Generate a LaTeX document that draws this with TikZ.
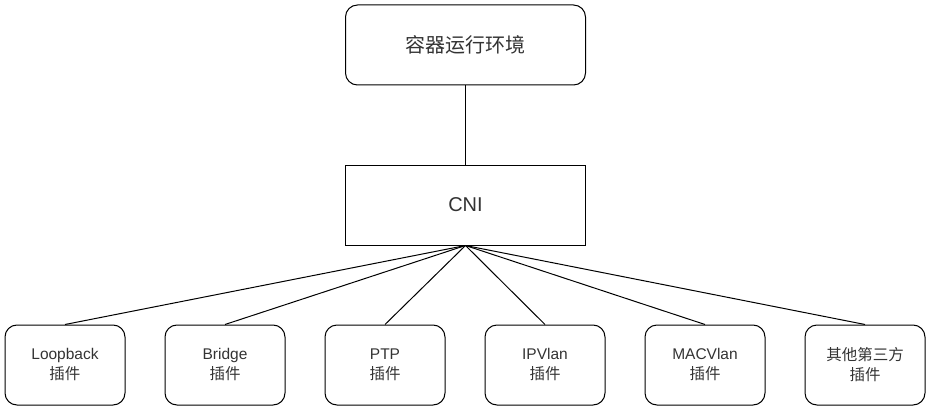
\documentclass[tikz,border=0pt]{standalone}
\usepackage{fontspec}
\setmainfont{Liberation Sans}
\newfontfamily\cjk{Noto Sans CJK SC}
\definecolor{txtgray}{HTML}{333333}
\begin{document}
\begin{tikzpicture}[x=1pt, y=-1pt,
    box/.style={draw, line width=1pt, minimum width=240pt, minimum height=80pt,
        inner sep=0pt, text=txtgray, font=\fontsize{20}{24}\selectfont},
    plugin/.style={draw, line width=1pt, rounded corners=12pt, minimum width=120pt,
        minimum height=80pt, inner sep=0pt, align=center, text=txtgray,
        font=\fontsize{15.5}{20}\selectfont},
    link/.style={line width=1pt}]
    % canvas of the reference (pixel units)
    \useasboundingbox (0,0) rectangle (932,412);

    % runtime on top, CNI below
    \node[box, rounded corners=12pt] (runtime) at (465.5,45) {\cjk 容器运行环境};
    \node[box] (cni) at (465.5,205) {CNI};
    \draw[link] (runtime) -- (cni);

    % plugin row
    \foreach \n/\t [count=\i from 0] in {loop/Loopback, bridge/Bridge, ptp/PTP,
            ipvlan/IPVlan, macvlan/MACVlan, other/{{\cjk 其他第三方}}} {
        \node[plugin] (\n) at (65+160*\i,365) {\t\\{\cjk 插件}};
        \draw[link] (cni.south) -- (\n.north);
    }
\end{tikzpicture}
\end{document}
